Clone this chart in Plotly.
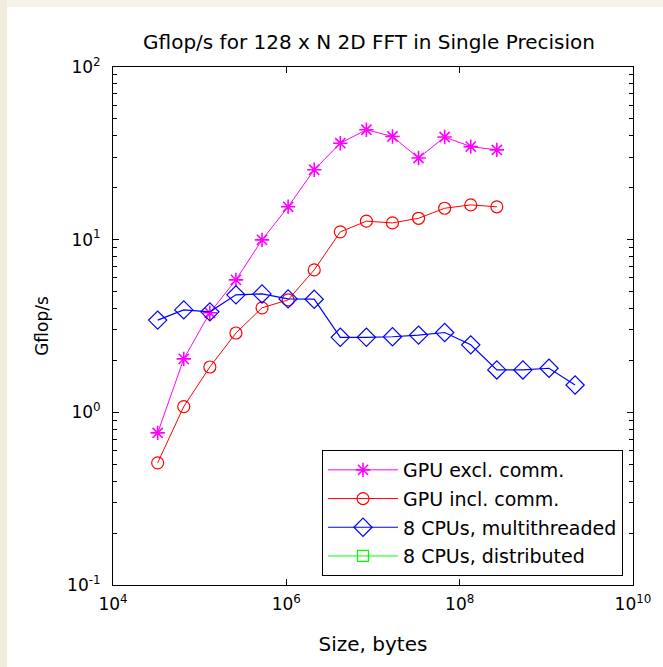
import plotly.graph_objects as go

# Sizes in bytes (powers of two, 2^15 .. 2^31)
sizes_gpu = [32768, 65536, 131072, 262144, 524288, 1048576, 2097152, 4194304,
             8388608, 16777216, 33554432, 67108864, 134217728, 268435456]
sizes_cpu = [32768, 65536, 131072, 262144, 524288, 1048576, 2097152, 4194304,
             8388608, 16777216, 33554432, 67108864, 134217728, 268435456,
             536870912, 1073741824, 2147483648]

gpu_excl = [0.76, 2.04, 3.77, 5.85, 9.97, 15.5, 25.4, 36.2, 43.3, 39.6, 29.7, 39.3, 34.6, 33.1]
gpu_incl = [0.51, 1.08, 1.83, 2.88, 4.03, 4.48, 6.68, 11.1, 12.8, 12.5, 13.3, 15.2, 15.9, 15.5]
cpu_mt = [3.42, 3.92, 3.82, 4.79, 4.85, 4.54, 4.52, 2.72, 2.72, 2.74, 2.8, 2.9, 2.46,
          1.76, 1.76, 1.80, 1.44]
cpu_dist = []  # listed in legend only

x_tickvals = [1e4, 1e6, 1e8, 1e10]
x_ticktext = ["10<sup>4</sup>", "10<sup>6</sup>", "10<sup>8</sup>", "10<sup>10</sup>"]
y_tickvals = [0.1, 1, 10, 100]
y_ticktext = ["10<sup>-1</sup>", "10<sup>0</sup>", "10<sup>1</sup>", "10<sup>2</sup>"]
y_minor = [0.2, 0.3, 0.4, 0.5, 0.6, 0.7, 0.8, 0.9,
           2, 3, 4, 5, 6, 7, 8, 9,
           20, 30, 40, 50, 60, 70, 80, 90]

FONT = "DejaVu Sans, Verdana, sans-serif"

fig = go.Figure()
fig.add_trace(go.Scatter(x=sizes_gpu, y=gpu_excl, mode="lines+markers", name="GPU excl. comm.",
                         legendgroup="a",
                         line=dict(color="#FF00FF", width=1),
                         marker=dict(symbol="asterisk-open", size=12, color="#FF00FF",
                                     line=dict(color="#FF00FF", width=1.6))))
fig.add_trace(go.Scatter(x=sizes_gpu, y=gpu_incl, mode="lines+markers", name="GPU incl. comm.",
                         legendgroup="b",
                         line=dict(color="#FF0000", width=1),
                         marker=dict(symbol="circle-open", size=12, color="#FF0000",
                                     line=dict(color="#FF0000", width=1.2))))
fig.add_trace(go.Scatter(x=sizes_cpu, y=cpu_mt, mode="lines+markers", name="8 CPUs, multithreaded",
                         legendgroup="c",
                         line=dict(color="#0000FF", width=1.2),
                         marker=dict(symbol="diamond-open", size=14, color="#0000FF",
                                     line=dict(color="#0000FF", width=1.2))))
fig.add_trace(go.Scatter(x=[None], y=[None], mode="lines+markers", name="8 CPUs, distributed",
                         legendgroup="d",
                         line=dict(color="#00FF00", width=1),
                         marker=dict(symbol="square-open", size=11, color="#00FF00",
                                     line=dict(color="#00FF00", width=1.2))))

W, H = 663, 667
L, R, T, B = 113, 30, 67, 82
pw = W - L - R
ph = H - T - B


def px_x(p):
    return (p - L) / pw


def px_y(p):
    return (H - B - p) / ph


shapes = [
    # slide background strips (top and left)
    dict(type="rect", xref="paper", yref="paper",
         x0=px_x(0), x1=px_x(W), y0=px_y(7), y1=px_y(0),
         fillcolor="#F6F3EA", line=dict(width=0), layer="below"),
    dict(type="rect", xref="paper", yref="paper",
         x0=px_x(0), x1=px_x(7), y0=px_y(H), y1=px_y(0),
         fillcolor="#F1ECDA", line=dict(width=0), layer="below"),
]

fig.update_layout(
    width=W, height=H,
    margin=dict(l=L, r=R, t=T, b=B),
    paper_bgcolor="white", plot_bgcolor="white",
    font=dict(family=FONT, size=16, color="black"),
    title=dict(text="Gflop/s for 128 x N 2D FFT in Single Precision",
               x=(L + pw / 2 - 4) / W, xanchor="center", y=1 - 42 / H, yanchor="middle",
               font=dict(family=FONT, size=20, color="black")),
    xaxis=dict(type="log", range=[4, 10], tickvals=x_tickvals, ticktext=x_ticktext,
               ticks="inside", ticklen=6, tickcolor="black", showline=True, linecolor="black",
               linewidth=1, mirror="ticks", showgrid=False, zeroline=False,
               tickfont=dict(size=17), ticklabelstandoff=4,
               title=dict(text="Size, bytes", font=dict(size=20), standoff=23)),
    yaxis=dict(type="log", range=[-1, 2], tickvals=y_tickvals, ticktext=y_ticktext,
               ticks="inside", ticklen=6, tickcolor="black", showline=True, linecolor="black",
               linewidth=1, mirror="ticks", showgrid=False, zeroline=False,
               tickfont=dict(size=17), ticklabelstandoff=8,
               minor=dict(ticks="inside", ticklen=4, tickcolor="black", tickvals=y_minor, showgrid=False),
               title=dict(text="Gflop/s", font=dict(size=17), standoff=14)),
    legend=dict(x=px_x(623), xanchor="right", y=px_y(576), yanchor="bottom",
                bgcolor="white", bordercolor="black", borderwidth=1,
                font=dict(size=19), itemwidth=70, tracegroupgap=1, traceorder="grouped"),
    shapes=shapes,
)

fig.write_html("out.html", config={"displayModeBar": False},
               post_script="document.body.style.margin='0';document.body.style.overflow='hidden';")
